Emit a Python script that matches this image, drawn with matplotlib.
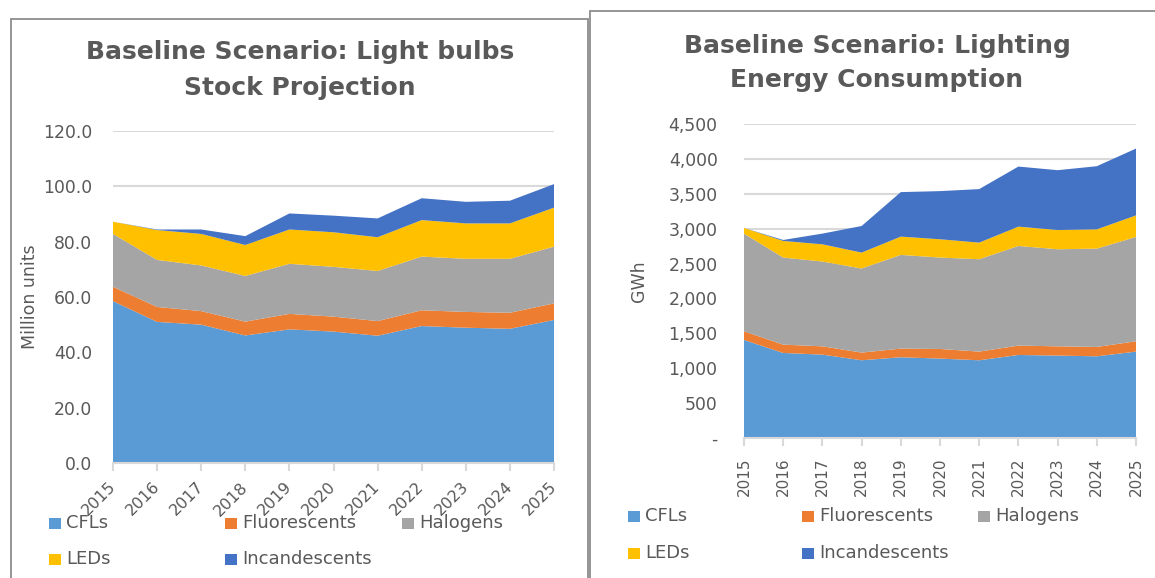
import matplotlib
matplotlib.use("Agg")
import matplotlib.pyplot as plt
from matplotlib.patches import Rectangle
from matplotlib.ticker import FuncFormatter

years = [2015, 2016, 2017, 2018, 2019, 2020, 2021, 2022, 2023, 2024, 2025]
series_names = ["CFLs", "Fluorescents", "Halogens", "LEDs", "Incandescents"]
colors = ["#5B9BD5", "#ED7D31", "#A5A5A5", "#FFC000", "#4472C4"]

# Stock projection (million units)
stock_cfl = [58.5, 51.0, 50.0, 46.1, 48.3, 47.5, 46.0, 49.5, 48.9, 48.5, 51.7]
stock_fluor = [5.2, 5.4, 4.9, 5.0, 5.6, 5.4, 5.3, 5.7, 5.7, 5.8, 6.0]
stock_halogen = [19.1, 17.0, 16.5, 16.5, 18.1, 18.0, 18.1, 19.4, 19.2, 19.5, 20.5]
stock_led = [4.4, 10.8, 11.4, 11.2, 12.4, 12.5, 12.2, 13.2, 12.8, 12.8, 14.1]
stock_incand = [0.0, 0.2, 1.6, 3.2, 5.8, 6.0, 6.8, 7.9, 7.8, 8.2, 8.5]

# Energy consumption (GWh)
energy_cfl = [1405, 1219, 1195, 1114, 1157, 1138, 1114, 1190, 1181, 1171, 1238]
energy_fluor = [124, 119, 119, 110, 124, 138, 124, 134, 133, 134, 148]
energy_halogen = [1400, 1248, 1215, 1205, 1343, 1310, 1324, 1428, 1391, 1409, 1495]
energy_led = [81, 238, 247, 228, 262, 262, 238, 277, 276, 276, 309]
energy_incand = [0, 14, 153, 381, 638, 690, 767, 861, 857, 905, 958]

W, H = 1155, 578
TXT = "#595959"
GRID = "#D9D9D9"
FONT = "DejaVu Sans"

fig = plt.figure(figsize=(W / 100, H / 100), dpi=100)
fig.patch.set_facecolor("white")


def fx(px):
    return px / W


def fy(py):
    return 1 - py / H


def add_axes_px(x0, x1, ytop, ybot):
    return fig.add_axes([fx(x0), fy(ybot), fx(x1 - x0), (ybot - ytop) / H])


# panel borders
fig.add_artist(Rectangle((fx(10.5), fy(600)), fx(588 - 10.5), (600 - 18.5) / H,
                         transform=fig.transFigure, fill=False, ec="#8C8C8C", lw=1.3))
fig.add_artist(Rectangle((fx(590), fy(600)), fx(1170 - 590), (600 - 10.5) / H,
                         transform=fig.transFigure, fill=False, ec="#8C8C8C", lw=1.3))


def style_axes(ax, ymax, step, fmt, rot, ypad):
    ax.set_xlim(years[0], years[-1])
    ax.set_ylim(0, ymax)
    ax.set_yticks([i * step for i in range(int(round(ymax / step)) + 1)])
    ax.yaxis.set_major_formatter(FuncFormatter(fmt))
    for s in ["top", "right", "left"]:
        ax.spines[s].set_visible(False)
    ax.spines["bottom"].set_color(GRID)
    ax.spines["bottom"].set_linewidth(1.5)
    ax.grid(axis="y", color=GRID, lw=1.5)
    ax.set_axisbelow(True)
    ax.tick_params(axis="y", length=0, pad=ypad, labelcolor=TXT, labelsize=12.4)
    ax.tick_params(axis="x", length=6, width=1.5, color=GRID, labelcolor=TXT,
                   direction="out")
    for lab in ax.get_yticklabels():
        lab.set_fontfamily(FONT)
    if rot == 45:
        ax.tick_params(axis="x", pad=9.5)
        ax.set_xticks(years, [str(y) for y in years], rotation=45, ha="right",
                      va="center", rotation_mode="anchor", fontfamily=FONT,
                      fontsize=11.5)
    else:
        ax.tick_params(axis="x", pad=8)
        ax.set_xticks(years, [str(y) for y in years], rotation=90, ha="center",
                      va="top", fontfamily=FONT, fontsize=11)


def legend_px(entries):
    for name, col, x, y in entries:
        fig.add_artist(Rectangle((fx(x), fy(y + 5.5)), fx(12), 11 / H,
                                 transform=fig.transFigure, color=col, lw=0))
        fig.text(fx(x + 17), fy(y), name, color=TXT, fontsize=13, fontfamily=FONT,
                 ha="left", va="center")


def title_px(x, y1, y2, l1, l2):
    for yy, s in ((y1, l1), (y2, l2)):
        fig.text(fx(x), fy(yy), s, ha="center", va="center", fontsize=18,
                 fontweight="bold", color=TXT, fontfamily=FONT)


# Left chart
ax1 = add_axes_px(113, 554, 131, 463)
ax1.stackplot(years, stock_cfl, stock_fluor, stock_halogen, stock_led, stock_incand,
              colors=colors, labels=series_names, lw=0)
style_axes(ax1, 120, 20, lambda v, p: f"{v:.1f}", 45, 15)
ax1.set_ylabel("Million units", color=TXT, fontsize=12.5, fontfamily=FONT)
ax1.yaxis.set_label_coords((39 - 113) / 441, 0.5)
title_px(300, 52, 88, "Baseline Scenario: Light bulbs", "Stock Projection")
legend_px([
    ("CFLs", colors[0], 49, 523), ("Fluorescents", colors[1], 225, 523),
    ("Halogens", colors[2], 402, 523),
    ("LEDs", colors[3], 49, 559), ("Incandescents", colors[4], 225, 559),
])

# Right chart
ax2 = add_axes_px(744, 1136, 124, 438)
ax2.stackplot(years, energy_cfl, energy_fluor, energy_halogen, energy_led, energy_incand,
              colors=colors, labels=series_names, lw=0)
style_axes(ax2, 4500, 500, lambda v, p: "-" if v == 0 else f"{v:,.0f}", 90, 19)
ax2.set_ylabel("GWh", color=TXT, fontsize=12.5, fontfamily=FONT)
ax2.yaxis.set_label_coords((648 - 744) / 392, 0.5)
title_px(877, 46, 80, "Baseline Scenario: Lighting", "Energy Consumption")
legend_px([
    ("CFLs", colors[0], 628, 516), ("Fluorescents", colors[1], 802, 516),
    ("Halogens", colors[2], 978, 516),
    ("LEDs", colors[3], 628, 553), ("Incandescents", colors[4], 802, 553),
])

fig.savefig("out.png", dpi=100, facecolor="white")
